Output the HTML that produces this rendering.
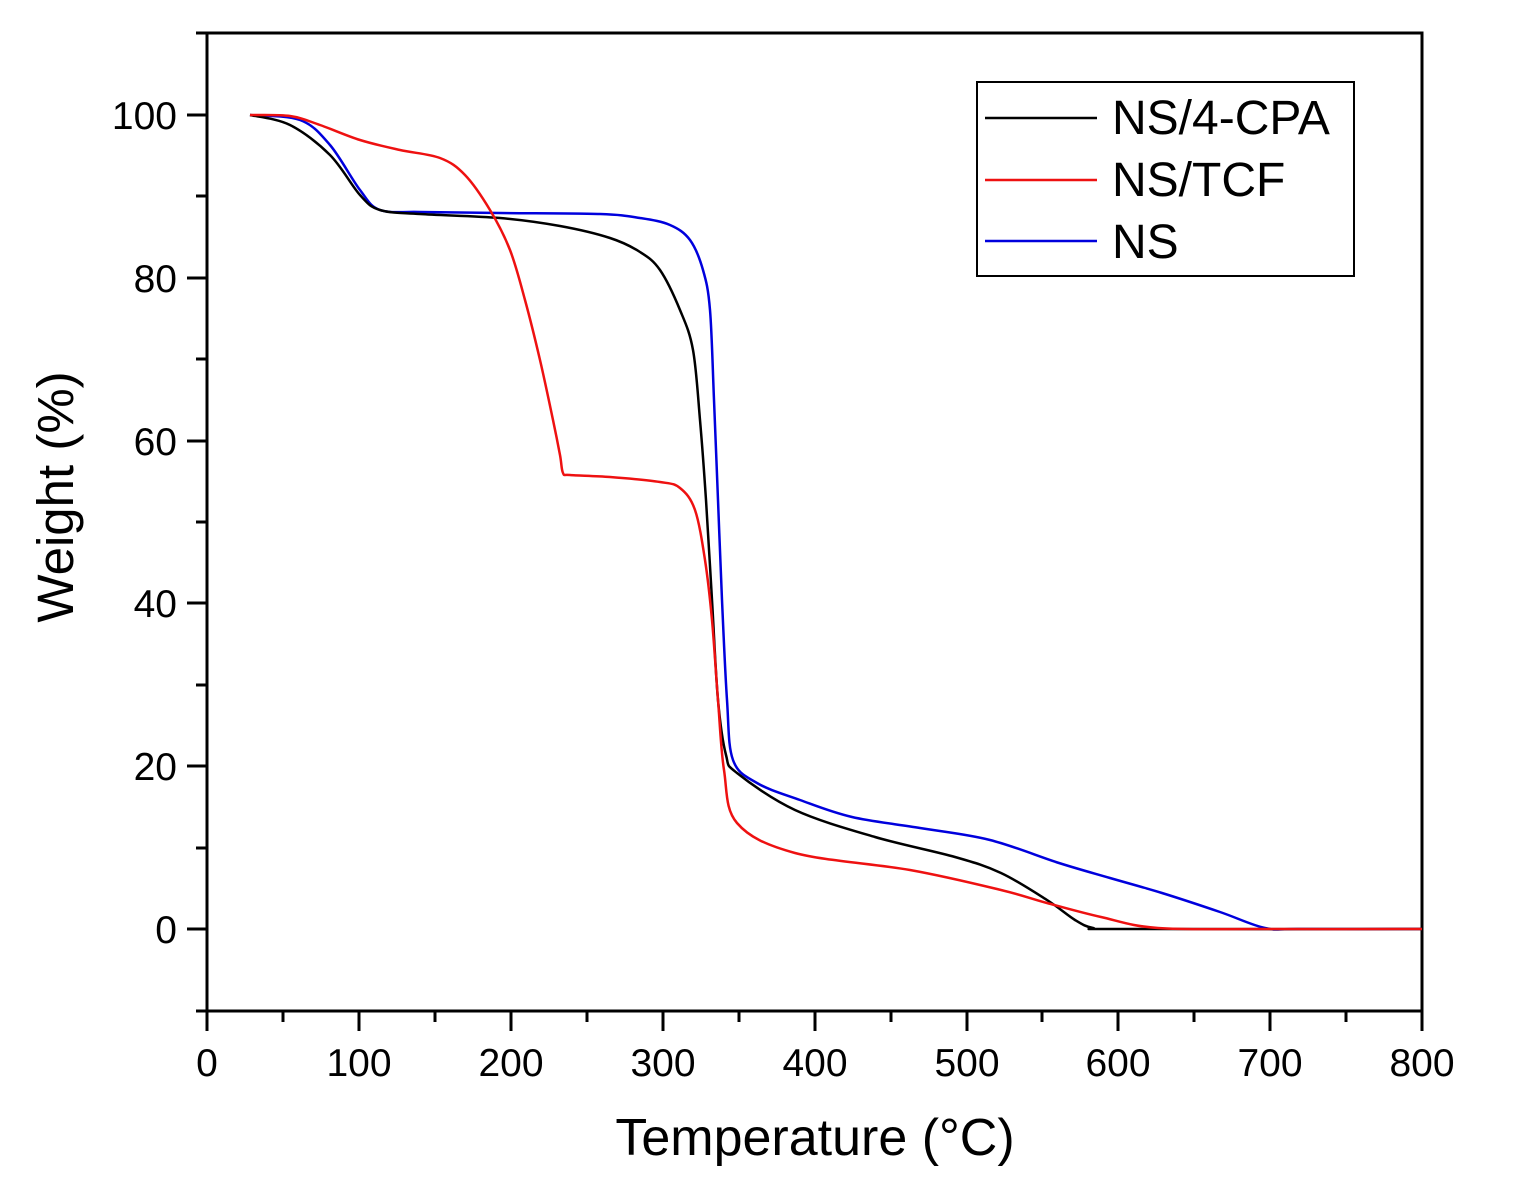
<!DOCTYPE html>
<html><head><style>body{margin:0;background:#fff}svg{display:block}</style></head>
<body>
<svg id="s" width="1515" height="1196" viewBox="0 0 1515 1196" xmlns="http://www.w3.org/2000/svg" font-family="Liberation Sans, sans-serif">
<rect width="1515" height="1196" fill="#fff"/>
<g fill="none" stroke="#000" stroke-width="3">
<rect x="207" y="33" width="1215" height="978"/>
<path d="M207 1011v20M359 1011v20M511 1011v20M663 1011v20M815 1011v20M967 1011v20M1118 1011v20M1270 1011v20M1422 1011v20
M283 1011v11M435 1011v11M587 1011v11M739 1011v11M891 1011v11M1042 1011v11M1194 1011v11M1346 1011v11
M187 115h20M187 278h20M187 441h20M187 603h20M187 766h20M187 929h20
M196 196h11M196 359h11M196 522h11M196 685h11M196 848h11M196 1011h11M196 33h11"/>
</g>
<g font-size="39" text-anchor="end" fill="#000">
<text x="177" y="129">100</text><text x="177" y="292">80</text><text x="177" y="455">60</text>
<text x="177" y="617">40</text><text x="177" y="780">20</text><text x="177" y="943">0</text>
</g>
<g font-size="39" text-anchor="middle" fill="#000">
<text x="207" y="1076">0</text><text x="359" y="1076">100</text><text x="511" y="1076">200</text>
<text x="663" y="1076">300</text><text x="815" y="1076">400</text><text x="967" y="1076">500</text>
<text x="1118" y="1076">600</text><text x="1270" y="1076">700</text><text x="1422" y="1076">800</text>
</g>
<text x="815" y="1155" font-size="52" text-anchor="middle">Temperature (°C)</text>
<text transform="translate(73,497) rotate(-90)" font-size="51" text-anchor="middle">Weight (%)</text>
<g fill="none" stroke-width="2.5" stroke-linejoin="round">
<path id="b" stroke="#0000dd" data-p="250,115 300,120 330,145 360,190 380,210 420,212 500,213 600,214 640,218 670,225 690,240 703,270 710,310 714,400 718,500 722,600 727,700 733,760 757,783 800,800 852,817 920,828 990,840 1059,863 1110,878 1162,893 1220,912 1265,928 1300,929 1422,929"/>
<path id="k" stroke="#000" data-p="250,115 290,125 330,155 360,195 380,210 420,214 500,218 560,226 610,238 640,252 660,270 680,310 693,350 700,420 706,500 712,600 718,700 726,755 737,773 795,810 875,837 955,857 1001,873 1047,900 1075,920 1093,928 1120,929 1422,929"/>
<path id="r" stroke="#ee1111" data-p="250,115 290,116 320,125 360,140 400,150 440,158 465,175 490,210 510,250 525,300 540,360 553,420 560,455 563,473 570,475 610,477 660,482 680,488 695,510 705,560 712,620 718,700 724,770 737,823 795,853 910,870 1001,890 1047,903 1101,917 1158,928 1265,929 1422,929"/>
</g>
<rect x="977" y="82" width="377" height="194" fill="#fff" stroke="#000" stroke-width="2"/>
<line x1="985" y1="118" x2="1097" y2="118" stroke="#000" stroke-width="2.5"/>
<line x1="985" y1="180" x2="1097" y2="180" stroke="#ee1111" stroke-width="2.5"/>
<line x1="985" y1="241" x2="1097" y2="241" stroke="#0000dd" stroke-width="2.5"/>
<g font-size="48" fill="#000">
<text x="1112" y="134">NS/4-CPA</text><text x="1112" y="196">NS/TCF</text><text x="1112" y="258">NS</text>
</g>
</svg>
<script>
['b','k','r'].forEach(function(id){
var el=document.getElementById(id);
var p=el.getAttribute('data-p').split(' ').map(function(s){return s.split(',').map(Number);});
var d='M'+p[0][0]+' '+p[0][1];
for(var i=0;i<p.length-1;i++){
var p0=p[i-1]||p[i],p1=p[i],p2=p[i+1],p3=p[i+2]||p2;
var c1x=p1[0]+(p2[0]-p0[0])/6,c1y=p1[1]+(p2[1]-p0[1])/6;
var c2x=p2[0]-(p3[0]-p1[0])/6,c2y=p2[1]-(p3[1]-p1[1])/6;
d+=' C'+c1x+' '+c1y+' '+c2x+' '+c2y+' '+p2[0]+' '+p2[1];
}
el.setAttribute('d',d);el.removeAttribute('data-p');
});
</script>
</body></html>
